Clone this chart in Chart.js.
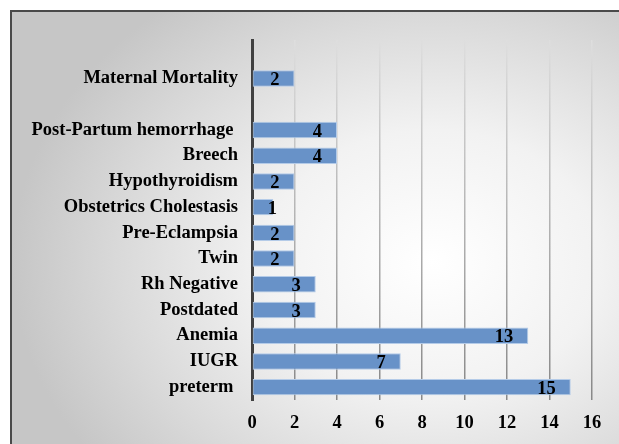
<!DOCTYPE html>
<html>
<head>
<meta charset="utf-8">
<script src="https://cdn.jsdelivr.net/npm/chart.js@4.4.0/dist/chart.umd.min.js"></script>
<style>
  body { margin: 0; width: 619px; height: 444px; overflow: hidden; background: #fff; position: relative; }
  #frame {
    position: absolute; left: 10px; top: 10px; width: 620px; height: 450px;
    border: 2px solid #4a4a4a; box-sizing: border-box;
    background: radial-gradient(ellipse 420px 330px at 420px 250px, #ffffff 0%, #f2f2f2 40%, #d9d9d9 75%, #c6c6c6 100%);
  }
  #wrap { position: absolute; left: 0; top: 0; width: 619px; height: 444px; }
</style>
</head>
<body>
<div id="frame"></div>
<div id="wrap"><canvas id="grafico"></canvas></div>
<script>
// categorias de arriba a abajo (las vacias son huecos)
const categorias = ['', 'Maternal Mortality', '', 'Post-Partum hemorrhage ', 'Breech', 'Hypothyroidism',
  'Obstetrics Cholestasis', 'Pre-Eclampsia', 'Twin', 'Rh Negative', 'Postdated', 'Anemia', 'IUGR', 'preterm '];
const casos = [null, 2, null, 4, 4, 2, 1, 2, 2, 3, 3, 13, 7, 15];
const ticksX = [0, 2, 4, 6, 8, 10, 12, 14, 16];

const fuente = { family: "'Liberation Serif', 'Times New Roman', serif", size: 18.5, weight: 'bold' };

// etiquetas de valor dentro del final de la barra
const etiquetas = {
  id: 'etiquetas',
  afterDatasetsDraw(chart) {
    const ctx = chart.ctx;
    const meta = chart.getDatasetMeta(0);
    ctx.save();
    ctx.font = 'bold 18.5px "Liberation Serif", "Times New Roman", serif';
    ctx.fillStyle = '#000';
    ctx.textAlign = 'center';
    ctx.textBaseline = 'middle';
    meta.data.forEach((bar, i) => {
      const v = casos[i];
      if (v === null) return;
      const texto = String(v);
      const w = ctx.measureText(texto).width;
      let x = bar.x - 15 - w / 2;
      if (x - w / 2 < bar.base) x = bar.x - 1;
      ctx.fillText(texto, x, bar.y + 2);
    });
    ctx.restore();
  }
};

function colorRejilla(context) {
  const chart = context.chart;
  const area = chart.chartArea;
  if (!area) return '#cccccc';
  const g = chart.ctx.createLinearGradient(0, area.top, 0, area.bottom);
  g.addColorStop(0, '#dedede');
  g.addColorStop(1, '#888888');
  return g;
}

new Chart(document.getElementById('grafico'), {
  type: 'bar',
  data: {
    labels: categorias,
    datasets: [{
      data: casos,
      backgroundColor: '#6892c8',
      borderColor: '#b4cbe8',
      borderWidth: 1,
      borderSkipped: false,
      categoryPercentage: 1,
      barPercentage: 0.64
    }]
  },
  options: {
    indexAxis: 'y',
    responsive: true,
    maintainAspectRatio: false,
    animation: false,
    layout: { padding: { top: 40, right: 27, left: 0, bottom: 0 } },
    plugins: { legend: { display: false }, tooltip: { enabled: false } },
    scales: {
      x: {
        min: 0,
        max: 16,
        afterBuildTicks: (scale) => { scale.ticks = ticksX.map(v => ({ value: v })); },
        afterFit: (scale) => { scale.height = 44; },
        grid: { color: colorRejilla, lineWidth: 1.5, drawTicks: false },
        border: { display: false },
        ticks: { color: '#000', font: fuente, padding: 12, maxRotation: 0 }
      },
      y: {
        afterFit: (scale) => { scale.width = 252; },
        grid: { display: false, drawTicks: false },
        border: { display: true, color: '#404040', width: 3 },
        ticks: { color: '#000', font: fuente, padding: 14, autoSkip: false }
      }
    }
  },
  plugins: [etiquetas]
});
</script>
</body>
</html>
